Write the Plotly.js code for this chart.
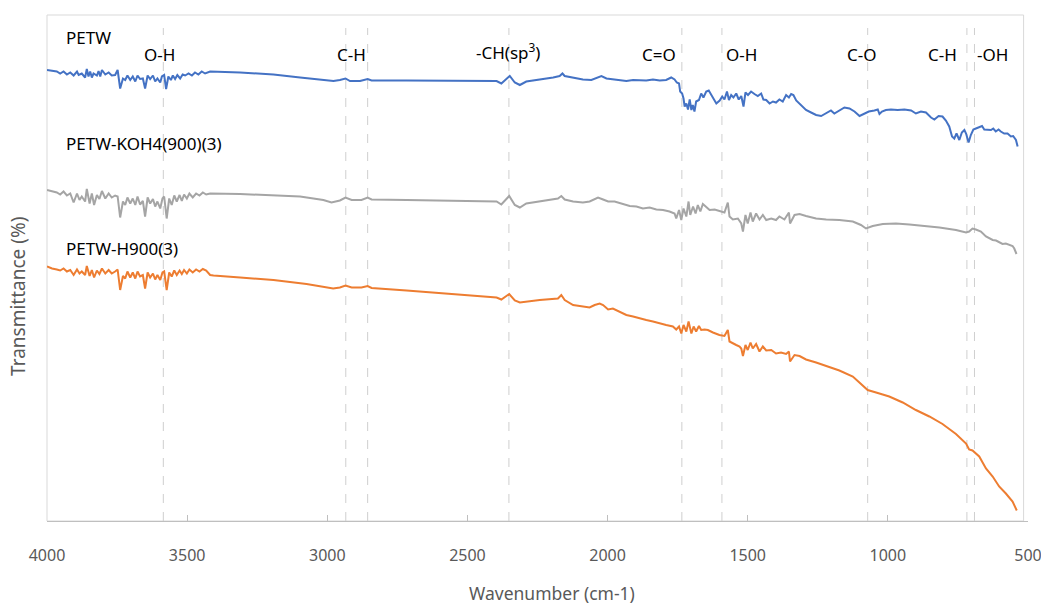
<!DOCTYPE html>
<html>
<head>
<meta charset="utf-8">
<script src="https://cdn.plot.ly/plotly-3.0.1.min.js"></script>
<style>html,body{margin:0;padding:0;background:#fff;}#chart{width:1041px;height:607px;}</style>
</head>
<body>
<div id="chart"></div>
<script>
// Wavenumber (cm-1) and transmittance (arbitrary offset units)
const petwX = [4000,3982,3965,3953,3941,3929,3917,3905,3893,3887,3876,3864,3858,3852,3846,3840,3834,3822,3816,3810,3804,3792,3780,3769,3757,3748,3739,3729,3721,3713,3703,3694,3685,3677,3668,3658,3650,3641,3632,3622,3614,3606,3596,3590,3582,3575,3567,3558,3551,3543,3535,3525,3516,3507,3495,3483,3472,3460,3448,3436,3418,3311,3192,3097,3014,2978,2955,2935,2919,2883,2856,2842,2717,2539,2396,2379,2349,2331,2313,2290,2242,2218,2194,2171,2161,2153,2123,2088,2058,2034,2022,2004,1981,1957,1933,1909,1886,1862,1838,1814,1791,1773,1761,1753,1745,1741,1734,1729,1725,1719,1713,1707,1701,1696,1690,1684,1674,1666,1658,1648,1639,1630,1622,1612,1600,1591,1583,1574,1567,1559,1551,1541,1532,1523,1515,1508,1499,1488,1476,1464,1452,1444,1434,1422,1410,1399,1387,1375,1363,1353,1345,1337,1327,1315,1303,1292,1274,1256,1238,1220,1203,1191,1173,1155,1137,1119,1101,1084,1068,1048,1036,1030,1021,1007,989,965,941,917,900,882,864,846,834,819,805,793,781,771,763,755,745,736,727,721,712,704,695,686,674,664,656,644,632,624,615,605,597,585,573,561,553,543,537];
const petwY = [90.2,90.0,89.9,89.5,89.9,89.3,89.7,89.1,89.9,89.2,89.5,88.7,90.4,88.9,89.9,88.7,89.5,89.1,90.0,88.9,90.2,89.3,89.7,89.1,89.2,90.2,86.5,88.5,88.2,89.1,88.2,88.9,87.9,89.1,88.4,88.5,86.5,89.1,88.4,89.1,87.9,88.5,87.7,88.9,89.2,86.4,88.9,88.2,89.1,88.4,89.2,88.5,89.3,89.1,89.5,89.1,89.7,89.3,89.9,89.5,89.9,89.7,89.3,88.7,88.2,88.0,88.2,88.5,88.0,88.0,88.4,88.1,88.1,88.0,88.0,87.5,89.0,87.7,87.2,87.9,88.3,88.4,88.7,89.0,89.5,89.0,88.7,88.3,88.2,88.7,89.0,88.5,88.3,88.2,88.0,88.2,88.1,88.1,88.3,88.1,88.2,88.7,88.3,87.7,87.5,85.9,85.5,84.5,82.9,83.5,82.3,84.3,82.2,83.2,81.9,83.9,84.2,85.5,84.7,85.9,86.1,85.2,84.5,83.5,84.1,84.9,84.3,85.9,84.2,85.2,84.7,85.5,84.3,85.0,82.9,85.7,85.2,85.9,85.4,85.0,85.5,84.3,84.2,83.5,83.9,83.7,84.3,83.9,85.2,84.7,85.4,85.2,84.1,83.5,82.9,82.2,81.7,81.2,81.0,81.5,82.1,81.5,82.1,82.7,82.5,81.9,81.0,81.4,81.9,82.1,82.3,81.4,81.9,82.2,82.3,82.2,82.3,82.1,81.5,81.9,81.7,80.7,80.3,81.0,80.9,80.1,78.9,76.9,76.5,77.5,76.2,77.7,78.2,77.5,75.7,77.2,78.3,78.5,78.7,79.0,78.3,78.2,78.2,78.5,77.9,78.3,77.9,77.5,77.5,76.9,77.0,76.2,74.9];

const kohX = [4000,3982,3965,3953,3941,3929,3917,3905,3893,3884,3876,3864,3858,3848,3840,3832,3822,3813,3804,3792,3780,3769,3757,3748,3739,3729,3721,3713,3703,3694,3685,3677,3668,3658,3650,3641,3632,3622,3614,3606,3596,3588,3582,3573,3564,3555,3546,3537,3527,3519,3511,3501,3492,3480,3468,3456,3444,3432,3418,3311,3192,3097,3014,2985,2955,2935,2913,2878,2856,2842,2717,2539,2396,2379,2351,2331,2313,2290,2242,2206,2177,2165,2153,2123,2088,2064,2034,2016,1998,1975,1945,1921,1897,1874,1850,1826,1802,1779,1761,1755,1745,1737,1729,1719,1711,1705,1695,1686,1678,1669,1660,1648,1636,1618,1595,1583,1571,1565,1553,1535,1523,1517,1508,1500,1490,1482,1470,1458,1446,1434,1416,1399,1387,1369,1353,1349,1333,1315,1292,1256,1220,1173,1125,1096,1078,1054,1018,971,923,876,816,757,721,710,698,686,668,650,638,626,614,603,591,579,567,555,549,541];
const kohY = [66.2,65.9,65.7,65.3,65.9,65.1,65.5,63.7,65.5,64.2,64.9,63.9,66.4,63.5,65.5,63.2,65.2,64.4,66.0,64.5,65.5,64.7,65.1,64.9,60.7,63.9,63.2,64.7,63.5,64.5,63.2,64.9,63.3,64.0,60.9,64.7,63.5,64.4,62.9,63.9,62.5,64.5,64.9,60.5,64.5,63.2,65.1,63.9,65.2,64.0,65.3,64.5,65.5,64.7,65.5,65.1,65.7,65.3,65.5,65.4,65.2,64.9,64.2,63.7,64.1,64.7,64.2,64.2,64.7,64.3,64.2,64.1,63.9,63.3,65.0,63.2,62.7,63.5,63.9,64.2,64.5,65.0,64.3,63.9,63.7,63.9,64.7,64.3,63.9,63.9,63.4,63.0,62.9,62.5,62.7,62.3,62.2,61.9,61.5,60.5,62.2,60.2,62.5,60.9,63.9,61.2,62.9,61.5,63.2,61.9,63.4,62.7,62.2,62.3,61.9,61.7,63.7,60.9,60.3,60.5,59.5,57.9,61.2,59.5,61.7,59.9,61.5,60.3,61.2,60.2,60.5,60.2,60.9,60.3,61.7,59.5,61.2,61.4,61.0,60.5,60.3,60.2,59.9,59.2,58.5,59.0,59.4,59.5,59.3,59.1,58.7,58.2,57.7,57.9,58.5,58.3,57.9,56.9,56.5,56.2,56.1,55.7,55.4,55.5,55.2,55.0,54.5,53.4];

const h900X = [4000,3982,3965,3953,3941,3929,3917,3905,3893,3884,3876,3864,3858,3848,3840,3832,3822,3813,3804,3792,3780,3769,3757,3748,3739,3729,3721,3713,3703,3694,3685,3677,3668,3658,3650,3641,3632,3622,3614,3606,3596,3588,3582,3573,3564,3555,3546,3537,3527,3519,3511,3501,3492,3480,3468,3456,3444,3432,3418,3406,3311,3192,3074,3002,2979,2955,2935,2913,2878,2856,2842,2717,2539,2396,2379,2351,2331,2313,2242,2206,2177,2165,2153,2123,2088,2064,2046,2028,2016,1998,1981,1957,1933,1909,1886,1862,1838,1814,1791,1767,1755,1745,1737,1729,1719,1711,1701,1693,1684,1674,1666,1654,1642,1624,1601,1583,1571,1565,1553,1541,1529,1523,1517,1508,1500,1490,1482,1470,1458,1446,1434,1416,1399,1381,1363,1353,1349,1333,1315,1292,1256,1220,1173,1125,1096,1072,1042,995,947,900,852,805,757,721,710,698,674,650,626,603,579,555,540];
const h900Y = [50.9,50.5,50.3,50.1,50.5,49.9,50.2,49.2,50.3,49.5,49.9,49.2,51.0,49.0,50.2,48.7,50.1,49.4,50.5,49.5,50.2,49.5,49.9,50.3,46.2,49.0,48.5,49.9,48.7,49.7,48.5,49.9,48.9,49.2,46.5,49.7,48.7,49.5,48.3,49.2,48.2,49.7,49.9,46.2,49.7,48.9,50.1,49.2,50.1,49.4,50.2,49.5,50.3,49.7,50.3,49.9,50.4,50.1,49.2,49.1,48.7,48.2,47.4,46.7,46.5,46.7,47.1,46.7,46.7,47.0,46.6,46.1,45.4,44.7,44.3,45.4,44.1,43.7,44.2,44.4,44.5,45.2,44.2,43.2,42.9,42.7,43.2,43.5,43.2,42.3,42.5,41.9,41.2,40.9,40.5,40.2,39.9,39.5,39.2,38.9,38.3,38.9,37.5,39.2,37.9,39.9,37.5,38.9,37.9,39.0,38.2,38.3,38.2,37.7,37.2,37.0,38.2,35.9,35.5,35.2,34.9,34.5,33.0,35.2,34.2,35.7,34.5,35.4,33.9,34.9,34.1,34.2,33.5,33.7,33.4,33.9,31.9,33.2,33.0,32.3,31.7,31.0,30.1,28.9,27.4,26.2,25.7,24.9,23.7,22.2,20.9,19.4,17.4,15.5,14.3,14.1,12.9,10.5,8.9,6.9,5.5,3.9,2.1];

const seriesNames = ["PETW", "PETW-KOH4(900)(3)", "PETW-H900(3)"];
const peakLines = [3585, 2934, 2856, 2352, 1735, 1592, 1072, 718, 691];
const peakLabels = ["O-H", "C-H", "-CH(sp<sup>3</sup>)", "C=O", "O-H", "C-O", "C-H", "-OH"];
const peakLabelX = [3600, 2912, 2356, 1818, 1522, 1091, 806, 627];
const xTickVals = [4000, 3500, 3000, 2500, 2000, 1500, 1000, 500];

const FONT = "'Noto Sans', 'Open Sans', sans-serif";
const colors = ["#4472C4", "#A5A5A5", "#ED7D31"];

const traces = [
  {x: petwX, y: petwY, name: seriesNames[0]},
  {x: kohX, y: kohY, name: seriesNames[1]},
  {x: h900X, y: h900Y, name: seriesNames[2]}
].map((t, i) => Object.assign(t, {
  type: "scatter", mode: "lines", line: {color: colors[i], width: 2}, hoverinfo: "x+y+name"
}));

const shapes = [{
  type: "rect", xref: "paper", yref: "paper", x0: 0, x1: 0.9955, y0: 0, y1: 1,
  line: {color: "#d9d9d9", width: 1}, layer: "below"
}].concat(peakLines.map(v => ({
  type: "line", xref: "x", yref: "y", x0: v, x1: v, y0: 0, y1: 98.6,
  line: {color: "#cfcfcf", width: 1, dash: "dash"}, layer: "below"
})));

const annotations = peakLabels.map((t, i) => ({
  text: t, x: peakLabelX[i], xref: "x", y: i === 2 ? 0.928 : 0.921, yref: "paper",
  showarrow: false, xanchor: "center", yanchor: "middle",
  font: {family: FONT, size: 17, color: "#000"}
})).concat([
  {text: seriesNames[0], x: 0.0173, y: 0.9565},
  {text: seriesNames[1], x: 0.0173, y: 0.747},
  {text: seriesNames[2], x: 0.0173, y: 0.5395}
].map(a => Object.assign(a, {
  xref: "paper", yref: "paper", showarrow: false, xanchor: "left", yanchor: "middle",
  font: {family: FONT, size: 17, color: "#000"}
}))).concat([
  {text: "Transmittance (%)", x: -0.0295, y: 0.443, xref: "paper", yref: "paper",
   textangle: -90, showarrow: false, xanchor: "center", yanchor: "middle",
   font: {family: FONT, size: 19, color: "#595959"}},
  {text: "Wavenumber (cm-1)", x: 0.515, y: -0.142, xref: "paper", yref: "paper",
   showarrow: false, xanchor: "center", yanchor: "middle",
   font: {family: FONT, size: 17.5, color: "#595959"}}
]);

const layout = {
  width: 1041, height: 607,
  margin: {l: 47, r: 13, t: 15, b: 86},
  paper_bgcolor: "#fff", plot_bgcolor: "#fff",
  showlegend: false,
  xaxis: {
    range: [4000, 500], tickvals: xTickVals, ticktext: xTickVals.map(String),
    showgrid: false, zeroline: false, showline: true, linecolor: "#bfbfbf", linewidth: 1,
    ticks: "inside", ticklen: 6, tickcolor: "#bfbfbf", ticklabelstandoff: 20,
    ticklabeloverflow: "allow",
    tickfont: {family: FONT, size: 16, color: "#595959"}
  },
  yaxis: {
    range: [0, 101.2], showticklabels: false, showgrid: false, zeroline: false,
    showline: false, ticks: ""
  },
  shapes: shapes,
  annotations: annotations
};

Plotly.newPlot("chart", traces, layout, {displayModeBar: false, staticPlot: true});
</script>
</body>
</html>
